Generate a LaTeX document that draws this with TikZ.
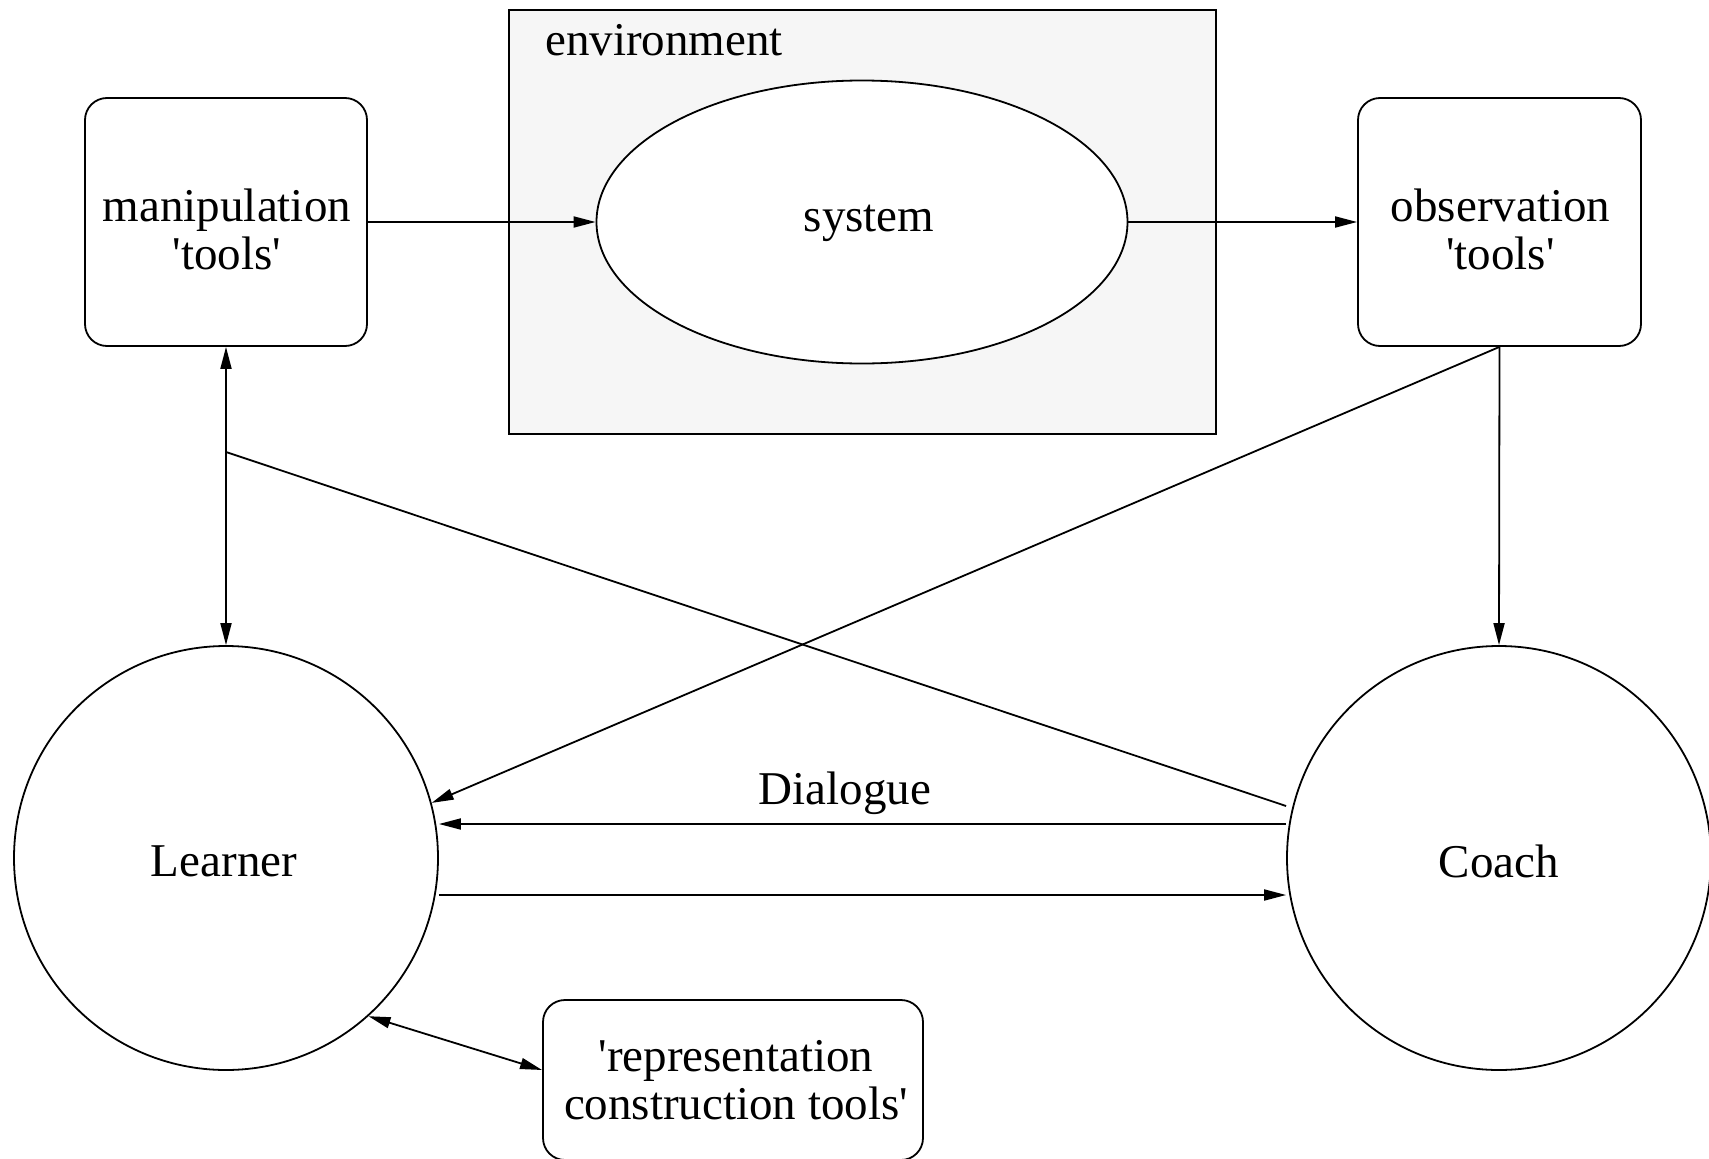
\documentclass[tikz,border=0pt]{standalone}
\usepackage{fontspec}
\setmainfont{Liberation Serif}
\usetikzlibrary{arrows.meta,calc,shapes.geometric}
\definecolor{envfill}{RGB}{246,246,246}
\newcommand{\sq}{\textquotesingle}
\begin{document}
\begin{tikzpicture}[x=1pt,y=-1pt,
  every node/.style={font=\fontsize{47pt}{48pt}\selectfont, align=center},
  lw/.style={line width=1.8pt},
  tbox/.style={lw, draw, rectangle, rounded corners=22pt, inner sep=0pt},
  bigcirc/.style={lw, draw, circle, minimum size=424pt, inner sep=0pt},
  tip/.style={-{Triangle[length=22pt,width=11pt]}},
  bitip/.style={{Triangle[length=22pt,width=11pt]}-{Triangle[length=22pt,width=11pt]}}]
  \useasboundingbox (0,0) rectangle (1709,1159);

  % environment with the system inside
  \node[lw, draw, fill=envfill, rectangle, minimum width=707pt, minimum height=424pt, inner sep=0pt] (env) at (862.5,222) {};
  \node[anchor=base west, inner sep=0pt] (envlbl) at (545,55) {environment};
  \node[lw, draw, fill=white, ellipse, minimum width=531pt, minimum height=283pt, inner sep=0pt] (sys) at (862,222) {};
  \node (systxt) at ($(sys)+(7,1)$) {system};

  % tool boxes
  \node[tbox, minimum width=282pt, minimum height=248pt] (manip) at (226,222) {};
  \node (maniptxt) at ($(manip)+(1,7)$) {manipulation\\\sq tools\sq};
  \node[tbox, minimum width=283pt, minimum height=248pt] (obs) at (1499.5,222) {};
  \node (obstxt) at ($(obs)+(1,7)$) {observation\\\sq tools\sq};
  \node[tbox, minimum width=380pt, minimum height=160pt] (rep) at (733,1080) {};
  \node (reptxt) at ($(rep)+(3,0)$) {\sq representation\\construction tools\sq};

  % actors
  \node[bigcirc] (learner) at (226,858) {};
  \node (learnertxt) at ($(learner)+(-2,3)$) {Learner};
  \node[bigcirc] (coach) at (1499,858) {};
  \node (coachtxt) at ($(coach)+(0,3)$) {Coach};

  % flows around the system
  \draw[lw, tip] (manip.east) -- (sys.west);
  \draw[lw, tip] (sys.east) -- (obs.west);
  \draw[lw, bitip] (manip.south) -- (learner.north);
  \draw[lw, tip] (obs.south) -- (coach.north);
  \draw[lw, tip] (obs.south) -- (learner.15);

  % coach link to the manipulation line
  \coordinate (branch) at (226,452);
  \draw[lw] (branch) -- ($(coach.west)+(0,-52)$);

  % dialogue
  \draw[lw, tip] ($(coach.west)+(0,-34)$) -- ($(learner.east)+(0,-34)$);
  \draw[lw, tip] ($(learner.east)+(0,37)$) -- ($(coach.west)+(0,37)$);
  \node (dlg) at (845,793) {Dialogue};

  % representation tools
  \draw[lw, bitip] (learner.-48) -- ($(rep.west)+(0,-10)$);
\end{tikzpicture}
\end{document}
